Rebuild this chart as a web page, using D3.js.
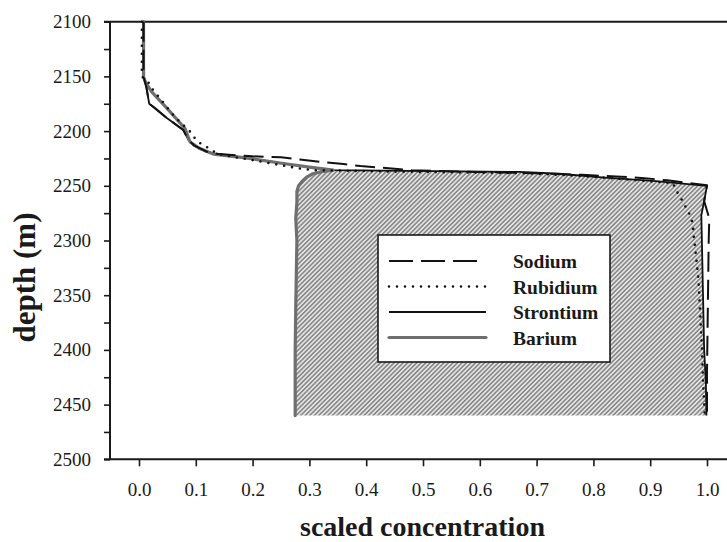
<!DOCTYPE html>
<html>
<head>
<meta charset="utf-8">
<script src="https://cdn.jsdelivr.net/npm/d3@7/dist/d3.min.js"></script>
<style>
  html, body { margin: 0; padding: 0; background: #fff; }
  svg { display: block; }
  text { font-family: "Liberation Serif", "Times New Roman", serif; fill: #1a1a1a; }
</style>
</head>
<body>
<svg id="chart" width="727" height="542"></svg>
<script>
// Depth profiles of scaled concentration (depth in m)
const sodiumDepth = [2100, 2150, 2160, 2175, 2179, 2188, 2199, 2208, 2213, 2219, 2221, 2223, 2224, 2226, 2228.5, 2230, 2232, 2234, 2235.7, 2237, 2238.5, 2240, 2241.5, 2243, 2245, 2249.6, 2264, 2280, 2300, 2340, 2380, 2420, 2460];
const sodiumConc  = [0.008, 0.008, 0.013, 0.018, 0.028, 0.049, 0.078, 0.087, 0.097, 0.12, 0.14, 0.2, 0.25, 0.283, 0.324, 0.36, 0.39, 0.44, 0.48, 0.56, 0.7, 0.78, 0.84, 0.89, 0.93, 1.0, 0.995, 1.004, 1.003, 1.002, 1.001, 1.0, 1.0];

const rubidiumDepth = [2100, 2150, 2155, 2162.5, 2170, 2178, 2184, 2190, 2196, 2202, 2208, 2213, 2216, 2220.5, 2223.6, 2226.6, 2231, 2234.2, 2235.7, 2237, 2238.5, 2241, 2245, 2247.6, 2252.5, 2257, 2264, 2271, 2277.6, 2285, 2291.6, 2298, 2306, 2336, 2367, 2397, 2428, 2460];
const rubidiumConc  = [0.005, 0.005, 0.016, 0.025, 0.037, 0.049, 0.058, 0.069, 0.081, 0.093, 0.10, 0.113, 0.125, 0.137, 0.166, 0.201, 0.248, 0.283, 0.307, 0.45, 0.68, 0.78, 0.88, 0.94, 0.944, 0.949, 0.957, 0.964, 0.971, 0.975, 0.976, 0.977, 0.979, 0.985, 0.988, 0.991, 0.993, 0.996];

const strontiumDepth = [2100, 2150, 2160, 2175, 2179, 2188, 2199, 2208, 2213, 2219, 2221, 2225, 2229.6, 2233, 2235.7, 2237.3, 2239, 2242.5, 2245.5, 2250, 2264, 2277, 2300, 2350, 2400, 2430, 2460];
const strontiumConc  = [0.008, 0.008, 0.013, 0.018, 0.028, 0.049, 0.078, 0.087, 0.096, 0.119, 0.137, 0.195, 0.254, 0.30, 0.342, 0.67, 0.74, 0.82, 0.905, 1.0, 0.995, 0.99, 0.991, 0.993, 0.995, 0.998, 0.999];

const bariumDepth = [2100, 2150, 2155, 2164, 2179, 2197.6, 2210, 2216, 2221, 2225, 2229.6, 2233, 2235.7, 2237, 2239, 2242, 2246, 2250, 2255, 2265, 2280, 2300, 2330, 2360, 2400, 2430, 2460];
const bariumConc  = [0.008, 0.008, 0.011, 0.022, 0.049, 0.081, 0.09, 0.107, 0.131, 0.195, 0.254, 0.30, 0.342, 0.322, 0.306, 0.295, 0.287, 0.281, 0.278, 0.278, 0.276, 0.278, 0.277, 0.276, 0.275, 0.275, 0.275];

const seriesNames = ["Sodium", "Rubidium", "Strontium", "Barium"];
const xTicks = [0.0, 0.1, 0.2, 0.3, 0.4, 0.5, 0.6, 0.7, 0.8, 0.9, 1.0];
const yMajorTicks = [2100, 2150, 2200, 2250, 2300, 2350, 2400, 2450, 2500];
const yMinorTicks = [2125, 2175, 2225, 2275, 2325, 2375, 2425, 2475];
const fillTop = 2235.7; // depth where Barium separates from the other profiles

const svg = d3.select("#chart");
const W = 727, H = 542;
const plot = { left: 110, right: 727, top: 21.7, bottom: 459.3 };

const x = d3.scaleLinear().domain([0, 1]).range([139, 707]);
const y = d3.scaleLinear().domain([2100, 2500]).range([plot.top, plot.bottom]);

const zip = (ds, cs) => ds.map((d, i) => ({ depth: d, conc: cs[i] }));
const sodium = zip(sodiumDepth, sodiumConc);
const rubidium = zip(rubidiumDepth, rubidiumConc);
const strontium = zip(strontiumDepth, strontiumConc);
const barium = zip(bariumDepth, bariumConc);

// hatch pattern for the region between Barium and Strontium
const defs = svg.append("defs");
const pat = defs.append("pattern")
  .attr("id", "hatch")
  .attr("patternUnits", "userSpaceOnUse")
  .attr("width", 3.2).attr("height", 3.2)
  .attr("patternTransform", "rotate(45)");
pat.append("rect").attr("width", 3.2).attr("height", 3.2).attr("fill", "#e4e4e4");
pat.append("line").attr("x1", 0.8).attr("y1", 0).attr("x2", 0.8).attr("y2", 3.2)
  .attr("stroke", "#7c7c7c").attr("stroke-width", 1.4);

const line = d3.line().x(d => x(d.conc)).y(d => y(d.depth));

// shaded band: Barium down the left, Strontium back up the right
const band = barium.filter(d => d.depth >= fillTop)
  .concat(strontium.filter(d => d.depth >= fillTop).reverse());
svg.append("path")
  .attr("d", line(band) + "Z")
  .attr("fill", "url(#hatch)")
  .attr("stroke", "none");

// axes
const axisColor = "#1a1a1a";
const yAxis = svg.append("g").attr("transform", `translate(${plot.left},0)`)
  .call(d3.axisLeft(y).tickValues(yMajorTicks.concat(yMinorTicks))
    .tickSize(6).tickPadding(13)
    .tickFormat(d => yMajorTicks.includes(d) ? d : ""));
yAxis.select(".domain").remove();
yAxis.selectAll(".tick line").attr("stroke", axisColor).attr("stroke-width", 1.6);
yAxis.selectAll(".tick text").style("font-size", "19px").attr("fill", axisColor);

const xAxis = svg.append("g").attr("transform", `translate(0,${plot.bottom})`)
  .call(d3.axisBottom(x).tickValues(xTicks).tickSize(7).tickPadding(16)
    .tickFormat(d3.format(".1f")));
xAxis.select(".domain").remove();
xAxis.selectAll(".tick line").attr("stroke", axisColor).attr("stroke-width", 1.6);
xAxis.selectAll(".tick text").style("font-size", "19px").attr("fill", axisColor);

// frame lines: left axis, top rule, bottom axis
svg.append("line").attr("x1", plot.left).attr("x2", plot.left)
  .attr("y1", plot.top).attr("y2", plot.bottom)
  .attr("stroke", axisColor).attr("stroke-width", 2);
svg.append("line").attr("x1", plot.left - 6).attr("x2", W)
  .attr("y1", plot.top).attr("y2", plot.top)
  .attr("stroke", axisColor).attr("stroke-width", 2);
svg.append("line").attr("x1", plot.left - 6).attr("x2", W)
  .attr("y1", plot.bottom).attr("y2", plot.bottom)
  .attr("stroke", axisColor).attr("stroke-width", 2);

// series styles
const styles = {
  Sodium:    { data: sodium,    stroke: "#111", width: 2,   dash: "20,8", cap: "butt" },
  Rubidium:  { data: rubidium,  stroke: "#111", width: 2.6, dash: "0,8",  cap: "round" },
  Strontium: { data: strontium, stroke: "#111", width: 1.8, dash: null,   cap: "butt" },
  Barium:    { data: barium,    stroke: "#6f6f6f", width: 3.2, dash: null, cap: "round" }
};

const drawOrder = ["Strontium", "Barium", "Sodium", "Rubidium"];
drawOrder.forEach(name => {
  const s = styles[name];
  svg.append("path")
    .attr("d", line(s.data))
    .attr("fill", "none")
    .attr("stroke", s.stroke)
    .attr("stroke-width", s.width)
    .attr("stroke-dasharray", s.dash)
    .attr("stroke-linecap", s.cap)
    .attr("stroke-linejoin", "round");
});

// legend
const legend = svg.append("g").attr("transform", "translate(378,235)");
legend.append("rect").attr("width", 232).attr("height", 127)
  .attr("fill", "#fff").attr("stroke", "#1a1a1a").attr("stroke-width", 1.6);
seriesNames.forEach((name, i) => {
  const s = styles[name];
  const ly = 26 + i * 25.5;
  legend.append("line")
    .attr("x1", 11).attr("x2", name === "Sodium" ? 102 : 108)
    .attr("y1", ly).attr("y2", ly)
    .attr("stroke", s.stroke).attr("stroke-width", s.width)
    .attr("stroke-dasharray", name === "Sodium" ? "24,8" : s.dash)
    .attr("stroke-linecap", s.cap);
  legend.append("text").attr("x", 135).attr("y", ly + 7)
    .style("font-size", "19.5px").style("font-weight", "bold")
    .text(name);
});

// axis titles
svg.append("text")
  .attr("x", (plot.left + W) / 2 + 4).attr("y", 536)
  .attr("text-anchor", "middle")
  .style("font-size", "28px").style("font-weight", "bold")
  .text("scaled concentration");
svg.append("text")
  .attr("transform", `translate(35,${y(2300) + 37}) rotate(-90)`)
  .attr("text-anchor", "middle")
  .style("font-size", "31px").style("font-weight", "bold")
  .text("depth (m)");
</script>
</body>
</html>
